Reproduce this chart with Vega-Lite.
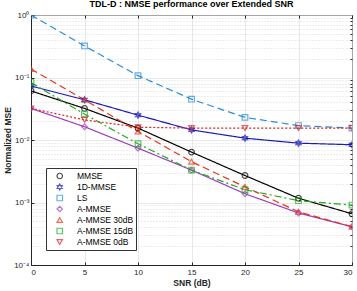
{
  "$schema": "https://vega.github.io/schema/vega-lite/v6.json",
  "width": 321,
  "height": 250,
  "autosize": {"type": "none"},
  "padding": {"left": 31, "top": 15, "right": 5, "bottom": 26},
  "background": "white",
  "title": {"text": "TDL-D : NMSE performance over Extended SNR", "fontSize": 9, "font": "Liberation Sans", "fontWeight": "bold", "color": "#000000", "offset": 2},
  "config": {
    "view": {"stroke": "#262626", "strokeWidth": 1},
    "axis": {"labelFont": "Liberation Sans", "titleFont": "Liberation Sans", "labelFontSize": 8, "titleFontSize": 8.5, "labelColor": "#262626", "titleColor": "#262626", "domainColor": "#262626", "tickColor": "#262626", "gridColor": "#dedede", "gridWidth": 0.7},
    "legend": {"labelFont": "Liberation Sans"}
  },
  "data": {"values": [
    {"series": "MMSE", "snr": 0, "nmse": 0.061},
    {"series": "MMSE", "snr": 5, "nmse": 0.032},
    {"series": "MMSE", "snr": 10, "nmse": 0.0155},
    {"series": "MMSE", "snr": 15, "nmse": 0.0064},
    {"series": "MMSE", "snr": 20, "nmse": 0.0027},
    {"series": "MMSE", "snr": 25, "nmse": 0.00117},
    {"series": "MMSE", "snr": 30, "nmse": 0.00066},
    {"series": "1D-MMSE", "snr": 0, "nmse": 0.073},
    {"series": "1D-MMSE", "snr": 5, "nmse": 0.044},
    {"series": "1D-MMSE", "snr": 10, "nmse": 0.025},
    {"series": "1D-MMSE", "snr": 15, "nmse": 0.0145},
    {"series": "1D-MMSE", "snr": 20, "nmse": 0.0107},
    {"series": "1D-MMSE", "snr": 25, "nmse": 0.0089},
    {"series": "1D-MMSE", "snr": 30, "nmse": 0.0084},
    {"series": "LS", "snr": 0, "nmse": 1.0},
    {"series": "LS", "snr": 5, "nmse": 0.32},
    {"series": "LS", "snr": 10, "nmse": 0.107},
    {"series": "LS", "snr": 15, "nmse": 0.045},
    {"series": "LS", "snr": 20, "nmse": 0.023},
    {"series": "LS", "snr": 25, "nmse": 0.017},
    {"series": "LS", "snr": 30, "nmse": 0.0155},
    {"series": "A-MMSE", "snr": 0, "nmse": 0.032},
    {"series": "A-MMSE", "snr": 5, "nmse": 0.0163},
    {"series": "A-MMSE", "snr": 10, "nmse": 0.0074},
    {"series": "A-MMSE", "snr": 15, "nmse": 0.0033},
    {"series": "A-MMSE", "snr": 20, "nmse": 0.00138},
    {"series": "A-MMSE", "snr": 25, "nmse": 0.00068},
    {"series": "A-MMSE", "snr": 30, "nmse": 0.00041},
    {"series": "A-MMSE 30dB", "snr": 0, "nmse": 0.137},
    {"series": "A-MMSE 30dB", "snr": 5, "nmse": 0.044},
    {"series": "A-MMSE 30dB", "snr": 10, "nmse": 0.0137},
    {"series": "A-MMSE 30dB", "snr": 15, "nmse": 0.0045},
    {"series": "A-MMSE 30dB", "snr": 20, "nmse": 0.00178},
    {"series": "A-MMSE 30dB", "snr": 25, "nmse": 0.00071},
    {"series": "A-MMSE 30dB", "snr": 30, "nmse": 0.00041},
    {"series": "A-MMSE 15dB", "snr": 0, "nmse": 0.083},
    {"series": "A-MMSE 15dB", "snr": 5, "nmse": 0.026},
    {"series": "A-MMSE 15dB", "snr": 10, "nmse": 0.0087},
    {"series": "A-MMSE 15dB", "snr": 15, "nmse": 0.0033},
    {"series": "A-MMSE 15dB", "snr": 20, "nmse": 0.0016},
    {"series": "A-MMSE 15dB", "snr": 25, "nmse": 0.00107},
    {"series": "A-MMSE 15dB", "snr": 30, "nmse": 0.00091},
    {"series": "A-MMSE 0dB", "snr": 0, "nmse": 0.032},
    {"series": "A-MMSE 0dB", "snr": 5, "nmse": 0.021},
    {"series": "A-MMSE 0dB", "snr": 10, "nmse": 0.016},
    {"series": "A-MMSE 0dB", "snr": 15, "nmse": 0.0155},
    {"series": "A-MMSE 0dB", "snr": 20, "nmse": 0.0155},
    {"series": "A-MMSE 0dB", "snr": 25, "nmse": 0.0155},
    {"series": "A-MMSE 0dB", "snr": 30, "nmse": 0.0155}
  ]},
  "resolve": {"axis": {"x": "independent", "y": "independent"}},
  "layer": [
    {
      "mark": {"type": "line", "strokeWidth": 1.2, "clip": true},
      "encoding": {
        "x": {"field": "snr", "type": "quantitative", "scale": {"domain": [0, 30], "nice": false},
          "axis": {"title": "SNR (dB)", "titleFontWeight": "bold", "values": [0, 5, 10, 15, 20, 25, 30], "grid": true, "tickSize": -3, "labelPadding": 6, "titlePadding": 2, "domain": true}},
        "y": {"field": "nmse", "type": "quantitative", "scale": {"type": "log", "domain": [0.0001, 1], "nice": false},
          "axis": {"title": "Normalized MSE", "titleFontWeight": "bold", "values": [0.0001, 0.001, 0.01, 0.1, 1], "grid": true, "tickSize": -3, "labelPadding": 5, "titlePadding": 1,
            "labelExpr": "datum.value >= 1 ? '10⁰' : datum.value >= 0.1 ? '10⁻¹' : datum.value >= 0.01 ? '10⁻²' : datum.value >= 0.001 ? '10⁻³' : '10⁻⁴'"}},
        "color": {"field": "series", "type": "nominal",
          "scale": {"domain": ["MMSE", "1D-MMSE", "LS", "A-MMSE", "A-MMSE 30dB", "A-MMSE 15dB", "A-MMSE 0dB"],
            "range": ["#000000", "#1a1ab8", "#2a8cd6", "#9c3fbf", "#e8341c", "#22aa22", "#e02020"]},
          "legend": {"title": null, "orient": "bottom-left", "offset": 15, "fillColor": "white", "strokeColor": "#333333", "padding": 2.5, "labelFontSize": 8.5, "labelColor": "#000000", "rowPadding": 0, "clipHeight": 11, "symbolSize": 30, "symbolStrokeWidth": 1.2, "symbolOffset": 7, "labelOffset": 13}},
        "strokeDash": {
          "condition": [
            {"test": "datum.series == 'LS' || datum.series == 'A-MMSE 30dB'", "value": [7, 4]},
            {"test": "datum.series == 'A-MMSE 15dB'", "value": [7, 3, 2, 3]},
            {"test": "datum.series == 'A-MMSE 0dB'", "value": [2, 2]}
          ],
          "value": [1, 0]}
      }
    },
    {
      "mark": {"type": "point", "filled": false, "strokeWidth": 1.2, "size": 32, "clip": true},
      "encoding": {
        "x": {"field": "snr", "type": "quantitative",
          "axis": {"orient": "top", "title": null, "labels": false, "grid": false, "values": [0, 5, 10, 15, 20, 25, 30], "tickSize": -3, "domain": false, "minExtent": 0, "maxExtent": 0}},
        "y": {"field": "nmse", "type": "quantitative",
          "axis": {"orient": "right", "title": null, "labels": false, "domain": false, "grid": true, "gridDash": [1, 2], "gridColor": "#cccccc", "tickSize": -2, "minExtent": 0, "maxExtent": 0,
            "values": [0.0002, 0.0003, 0.0004, 0.0005, 0.0006, 0.0007, 0.0008, 0.0009, 0.002, 0.003, 0.004, 0.005, 0.006, 0.007, 0.008, 0.009, 0.02, 0.03, 0.04, 0.05, 0.06, 0.07, 0.08, 0.09, 0.2, 0.3, 0.4, 0.5, 0.6, 0.7, 0.8, 0.9]}},
        "color": {"field": "series", "type": "nominal",
          "legend": {"title": null, "orient": "bottom-left", "offset": 15, "fillColor": "white", "strokeColor": "#333333", "padding": 2.5, "labelFontSize": 8.5, "labelColor": "#000000", "rowPadding": 0, "clipHeight": 11, "symbolSize": 30, "symbolStrokeWidth": 1.2, "symbolOffset": 7, "labelOffset": 13}},
        "shape": {"field": "series", "type": "nominal",
          "scale": {"domain": ["MMSE", "1D-MMSE", "LS", "A-MMSE", "A-MMSE 30dB", "A-MMSE 15dB", "A-MMSE 0dB"],
            "range": ["circle", "M0,-1.1L0.95,0.55L-0.95,0.55Z M0,1.1L-0.95,-0.55L0.95,-0.55Z", "square", "diamond", "triangle-up", "square", "triangle-down"]},
          "legend": {"title": null, "orient": "bottom-left", "offset": 15, "fillColor": "white", "strokeColor": "#333333", "padding": 2.5, "labelFontSize": 8.5, "labelColor": "#000000", "rowPadding": 0, "clipHeight": 11, "symbolSize": 30, "symbolStrokeWidth": 1.2, "symbolOffset": 7, "labelOffset": 13}}
      }
    }
  ]
}
